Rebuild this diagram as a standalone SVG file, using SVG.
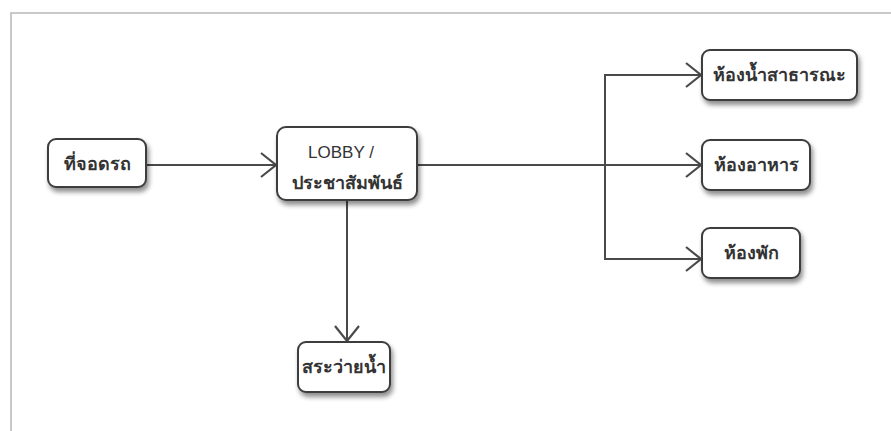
<svg xmlns="http://www.w3.org/2000/svg" width="891" height="431" viewBox="0 0 891 431">
<defs>
<filter id="sh" x="-20%" y="-30%" width="150%" height="180%">
<feGaussianBlur in="SourceAlpha" stdDeviation="2.5"/>
<feOffset dx="2" dy="4" result="b"/>
<feComponentTransfer><feFuncA type="linear" slope="0.45"/></feComponentTransfer>
<feMerge><feMergeNode/><feMergeNode in="SourceGraphic"/></feMerge>
</filter>
<marker id="ar" viewBox="0 0 28 28" refX="26" refY="14" markerWidth="28" markerHeight="28" markerUnits="userSpaceOnUse" orient="auto">
<path d="M11,2 L26,14 L11,26" fill="none" stroke="#4a4a4a" stroke-width="2.2"/>
</marker>
<style>
.n rect{fill:#fff;stroke:#3c3c3c;stroke-width:2;filter:url(#sh)}
.n text{font-family:"Noto Sans","Liberation Sans",sans-serif;font-size:18px;font-weight:bold;fill:#333;text-anchor:middle}
.n text.en{font-size:17px;font-weight:normal;font-family:"Liberation Sans",sans-serif}
.c path{fill:none;stroke:#4a4a4a;stroke-width:2}
</style>
</defs>
<rect width="891" height="431" fill="#fff"/>
<path d="M11,431 L11,13 L891,13" fill="none" stroke="#b8b8b8" stroke-width="1.5"/>
<g class="c">
<path d="M146,165 L276,165" marker-end="url(#ar)"/>
<path d="M417,165 L701,165" marker-end="url(#ar)"/>
<path d="M605,165 L605,75 L701,75" marker-end="url(#ar)"/>
<path d="M605,165 L605,259 L701,259" marker-end="url(#ar)"/>
<path d="M347,200 L347,341" marker-end="url(#ar)"/>
</g>
<g id="parking" class="n"><rect x="48" y="139" width="98" height="48" rx="8"/><text x="97" y="170">ที่จอดรถ</text></g>
<g id="lobby" class="n"><rect x="277" y="127" width="140" height="73" rx="9"/><text class="en" x="341" y="158">LOBBY /</text><text x="347" y="189">ประชาสัมพันธ์</text></g>
<g id="pool" class="n"><rect x="298" y="342" width="92" height="50" rx="8"/><text x="344" y="373">สระว่ายน้ำ</text></g>
<g id="toilet" class="n"><rect x="702" y="50" width="155" height="50" rx="8"/><text x="779" y="81">ห้องน้ำสาธารณะ</text></g>
<g id="restaurant" class="n"><rect x="702" y="140" width="108" height="50" rx="8"/><text x="756" y="171">ห้องอาหาร</text></g>
<g id="room" class="n"><rect x="702" y="228" width="98" height="50" rx="8"/><text x="751" y="259">ห้องพัก</text></g>
</svg>
